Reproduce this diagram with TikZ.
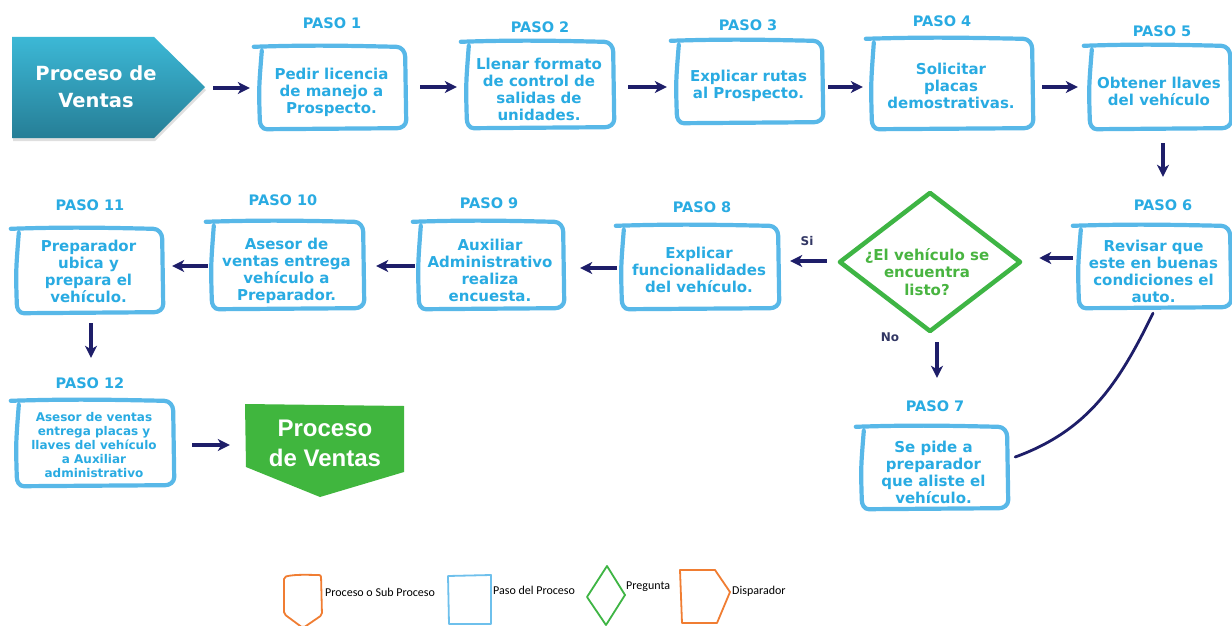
\documentclass[tikz,border=0pt]{standalone}
\usepackage{fontspec}
\setmainfont{DejaVu Sans}
\newfontfamily\carl{Carlito}
\newfontfamily\libs{Liberation Sans}
\usetikzlibrary{calc,arrows.meta,shapes.geometric,shadows}
\definecolor{cyantx}{RGB}{41,171,226}
\definecolor{boxblue}{RGB}{88,184,232}
\definecolor{navy}{RGB}{30,30,105}
\definecolor{lblnavy}{RGB}{50,55,100}
\definecolor{dgreen}{RGB}{62,181,68}
\definecolor{dtext}{RGB}{72,180,64}
\definecolor{fingreen}{RGB}{64,182,62}
\definecolor{orng}{RGB}{240,125,50}
\definecolor{legblue}{RGB}{110,192,236}
\definecolor{tealtop}{RGB}{60,184,214}
\definecolor{tealbot}{RGB}{38,126,150}
\tikzset{
 stepbox/.style={draw=none, inner sep=0pt, align=center, text=cyantx, font=\bfseries\fontsize{15}{17}\selectfont},
 pasolbl/.style={text=cyantx, font=\bfseries\fontsize{14.5}{16}\selectfont, inner sep=0pt},
 skline/.style={draw=boxblue, line width=4.2pt, line cap=round, line join=round},
 arr/.style={draw=navy, line width=3.6pt, -{Stealth[length=12pt,width=12pt,inset=3.5pt]}},
 conn/.style={draw=navy, line width=2.8pt, line cap=round},
 yn/.style={text=lblnavy, font=\bfseries\fontsize{12}{14}\selectfont, inner sep=0pt},
 legtxt/.style={font=\carl\fontsize{12}{14}\selectfont, anchor=west, inner sep=0pt},
 legline/.style={line width=1.8pt, line join=round, line cap=round}
}
\newcommand\skbox[2]{%
 \draw[skline] ($(#1.north west)+(-4,#2+1)$)
   .. controls ($(#1.north)+(-20,#2+3)$) and ($(#1.north)+(20,#2+2)$) .. ($(#1.north east)+(-9,#2+1)$)
   to[out=0,in=90] ($(#1.north east)+(0,#2-9)$)
   -- ($(#1.south east)+(1,#2+8)$)
   to[out=-90,in=0] ($(#1.south east)+(-8,#2)$)
   -- ($(#1.south west)+(9,#2-1)$)
   to[out=180,in=-90] ($(#1.south west)+(2,#2+8)$)
   .. controls ($(#1.west)+(1,#2)$) .. ($(#1.north west)+(4,#2-3)$);
}
\begin{document}
\begin{tikzpicture}[x=1pt,y=1pt]
\useasboundingbox (0,0) rectangle (1232,-626);
\fill[white] (0,0) rectangle (1232,-626);

% start shape
\path[drop shadow={shadow xshift=1pt,shadow yshift=-3pt,opacity=0.25}, top color=tealtop, bottom color=tealbot]
  (12,-37) -- (154,-37) -- (205,-87) -- (154,-138) -- (12,-138) -- cycle;
\node[font=\bfseries\fontsize{19.5}{27}\selectfont, text=white, align=center, inner sep=0pt] (start) at (96,-86.5) {Proceso de\\Ventas};
\coordinate (tip) at (205,-88);

% step boxes
\node[stepbox, minimum width=147pt, minimum height=80pt] (b1) at (331.5,-92) {Pedir licencia\\de manejo a\\Prospecto.};
\node[stepbox, minimum width=148pt, minimum height=84pt] (b2) at (539,-89) {Llenar formato\\de control de\\salidas de\\unidades.};
\node[stepbox, minimum width=147pt, minimum height=80pt] (b3) at (748.5,-85.5) {Explicar rutas\\al Prospecto.};
\node[stepbox, minimum width=162pt, minimum height=88pt] (b4) at (951,-86) {Solicitar\\placas\\demostrativas.};
\node[stepbox, minimum width=142pt, minimum height=81pt] (b5) at (1159,-91) {Obtener llaves\\del vehículo};
\node[stepbox, minimum width=153pt, minimum height=80pt] (b6) at (1153.5,-271) {Revisar que\\este en buenas\\condiciones el\\auto.};
\node[stepbox, minimum width=147pt, minimum height=80pt] (b7) at (933.5,-472.5) {Se pide a\\preparador\\que aliste el\\vehículo.};
\node[stepbox, minimum width=158pt, minimum height=81pt] (b8) at (699,-270) {Explicar\\funcionalidades\\del vehículo.};
\node[stepbox, minimum width=146pt, minimum height=85pt] (b9) at (490,-270.5) {Auxiliar\\Administrativo\\realiza\\encuesta.};
\node[stepbox, minimum width=153pt, minimum height=85pt] (b10) at (286.5,-271) {Asesor de\\ventas entrega\\vehículo a\\Preparador.};
\node[stepbox, minimum width=147pt, minimum height=82pt] (b11) at (88.5,-271) {Preparador\\ubica y\\prepara el\\vehículo.};
\node[stepbox, minimum width=158pt, minimum height=83pt, font=\bfseries\fontsize{12}{14}\selectfont] (b12) at (94,-445) {Asesor de ventas\\entrega placas y\\llaves del vehículo\\a Auxiliar\\administrativo};

\skbox{b1}{4}
\skbox{b2}{4}
\skbox{b3}{3.5}
\skbox{b4}{2}
\skbox{b5}{3.5}
\skbox{b6}{4}
\skbox{b7}{4.5}
\skbox{b8}{2.5}
\skbox{b9}{5}
\skbox{b10}{5.5}
\skbox{b11}{0}
\skbox{b12}{1.5}

% PASO labels
\node[pasolbl] (p1) at (332,-23) {PASO 1};
\node[pasolbl] (p2) at (540,-27) {PASO 2};
\node[pasolbl] (p3) at (748,-25) {PASO 3};
\node[pasolbl] (p4) at (942,-21) {PASO 4};
\node[pasolbl] (p5) at (1162,-31) {PASO 5};
\node[pasolbl] (p6) at (1163,-205) {PASO 6};
\node[pasolbl] (p7) at (935,-406) {PASO 7};
\node[pasolbl] (p8) at (702,-207) {PASO 8};
\node[pasolbl] (p9) at (489,-203) {PASO 9};
\node[pasolbl] (p10) at (283,-200) {PASO 10};
\node[pasolbl] (p11) at (90,-205) {PASO 11};
\node[pasolbl] (p12) at (90,-383) {PASO 12};

% decision
\node[diamond, draw=dgreen, line width=4.5pt, line join=round, inner sep=0pt, minimum width=182pt, minimum height=140pt] (d) at (930,-262) {};
\node[text=dtext, font=\bfseries\fontsize{15}{17.5}\selectfont, align=center, inner sep=0pt] (dq) at (927,-272) {¿El vehículo se\\encuentra\\listo?};
\node[yn] (si) at (807,-241) {Si};
\node[yn] (no) at (890,-337) {No};

% end shape
\fill[fingreen] (245,-404) -- (404,-406) -- (404,-472) -- (320,-497) -- (246,-467) -- cycle;
\node[font=\libs\bfseries\fontsize{24}{30}\selectfont, text=white, align=center, minimum width=159pt, inner sep=0pt] (fin) at (325,-443) {Proceso\\de Ventas};

% arrows
\draw[arr, shorten <=8pt, shorten >=8pt] (tip) -- (tip -| b1.west);
\draw[arr, shorten <=15pt, shorten >=8pt] ([yshift=5pt]b1.east) -- ([yshift=5pt]b1.east -| b2.west);
\draw[arr, shorten <=15pt, shorten >=8pt] ([yshift=2pt]b2.east) -- ([yshift=2pt]b2.east -| b3.west);
\draw[arr, shorten <=6pt, shorten >=7pt] ([yshift=-1.5pt]b3.east) -- ([yshift=-1.5pt]b3.east -| b4.west);
\draw[arr, shorten <=10pt, shorten >=10pt] ([yshift=-1pt]b4.east) -- ([yshift=-1pt]b4.east -| b5.west);
\draw[arr, shorten <=11.5pt, shorten >=54pt] ([xshift=4pt]b5.south) -- ([xshift=4pt]b5.south |- b6.north);
\draw[arr, shorten <=4pt, shorten >=16pt] ([yshift=13pt]b6.west) -- ([yshift=13pt]b6.west -| d.east);
\draw[arr, shorten <=10pt, shorten >=12pt] ([yshift=1pt]d.west) -- ([yshift=1pt]d.west -| b8.east);
\draw[arr, shorten <=8pt, shorten >=54.5pt] ([xshift=3.5pt]b7.north |- d.south) -- ([xshift=3.5pt]b7.north);
\draw[arr, shorten <=3pt, shorten >=17pt] ([yshift=2pt]b8.west) -- ([yshift=2pt]b8.west -| b9.east);
\draw[arr, shorten <=2pt, shorten >=13pt] ([yshift=4.5pt]b9.west) -- ([yshift=4.5pt]b9.west -| b10.east);
\draw[arr, shorten <=2pt, shorten >=10pt] ([yshift=5pt]b10.west) -- ([yshift=5pt]b10.west -| b11.east);
\draw[arr, shorten <=11pt, shorten >=45.5pt] ([xshift=2.5pt]b11.south) -- ([xshift=2.5pt]b11.south |- b12.north);
\draw[arr, shorten <=19pt, shorten >=15.5pt] (b12.east) -- (b12.east -| fin.west);
\draw[conn] ([xshift=8pt,yshift=15.5pt]b7.east) to[out=20,in=-116] ([xshift=-0.5pt,yshift=-2pt]b6.south);

% legend
\draw[legline, draw=orng, rounded corners=2pt] (284,-577) .. controls (295,-574) and (310,-575) .. (321,-575) -- (322,-615) -- (303,-628) -- (284,-614) -- cycle;
\node[legtxt] (l1) at (325,-592) {Proceso o Sub Proceso};
\draw[legline, draw=legblue] (448,-576) -- (491,-575) -- (491,-624) -- (449,-624) -- cycle;
\node[legtxt] (l2) at (493,-590) {Paso del Proceso};
\draw[legline, draw=dgreen] (607,-566) -- (625,-595) -- (606,-625) -- (587,-597) -- cycle;
\node[legtxt] (l3) at (626,-587) {Pregunta};
\draw[legline, draw=orng] (680,-570) -- (715,-570) -- (730,-592) -- (717,-623) -- (682,-623) -- cycle;
\node[legtxt] (l4) at (732,-591) {Disparador};
\end{tikzpicture}
\end{document}
